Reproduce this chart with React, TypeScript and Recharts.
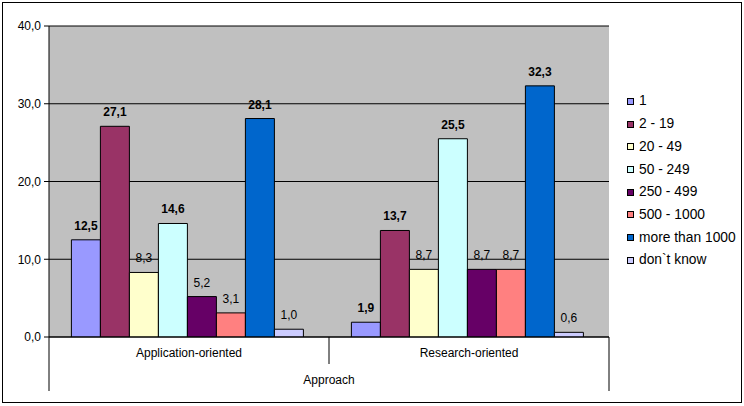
import React from 'react';
import { BarChart, Bar, XAxis, YAxis, CartesianGrid, LabelList } from 'recharts';

const categories = ['Application-oriented', 'Research-oriented'];
const axisTitle = 'Approach';
const seriesNames = ['1', '2 - 19', '20 - 49', '50 - 249', '250 - 499', '500 - 1000', 'more than 1000', 'don`t know'];
const v1 = [12.5, 1.9];
const v2to19 = [27.1, 13.7];
const v20to49 = [8.3, 8.7];
const v50to249 = [14.6, 25.5];
const v250to499 = [5.2, 8.7];
const v500to1000 = [3.1, 8.7];
const vMore1000 = [28.1, 32.3];
const vDontKnow = [1.0, 0.6];
const seriesValues = [v1, v2to19, v20to49, v50to249, v250to499, v500to1000, vMore1000, vDontKnow];
const seriesColors = ['#9999FF', '#993366', '#FFFFCC', '#CCFFFF', '#660066', '#FF8080', '#0066CC', '#CCCCFF'];
const boldLabels = [true, true, false, true, false, false, true, false];
const yTicks = [0, 10, 20, 30, 40];

const data = categories.map((c, i) => {
  const row: Record<string, any> = { category: c };
  seriesValues.forEach((vals, k) => {
    row['s' + k] = vals[i];
  });
  return row;
});

const fmt = (v: any) => Number(v).toFixed(1).replace('.', ',');

const FONT = 'Arial, "Liberation Sans", sans-serif';

const CategoryTick = (props: any) => {
  const { x, y, payload, index } = props;
  const n = categories.length;
  const half = payload && typeof payload.offset === 'number' && payload.offset > 0 ? payload.offset : (props.width || 560) / n / 2;
  const last = index === n - 1;
  return (
    <g>
      <line x1={x - half} y1={y} x2={x - half} y2={y + (index === 0 ? 54 : 27)} stroke="#000" strokeWidth={1} />
      {last && <line x1={x + half} y1={y} x2={x + half} y2={y + 54} stroke="#000" strokeWidth={1} />}
      <text x={x} y={y + 20} textAnchor="middle" fontSize={12} fill="#000" fontFamily={FONT}>
        {payload.value}
      </text>
    </g>
  );
};

export default function App() {
  return (
    <div style={{ position: 'absolute', left: 0, top: 0, width: 744, height: 406, fontFamily: FONT, background: '#fff' }}>
      <div
        style={{
          position: 'absolute',
          left: 2,
          top: 2,
          width: 740,
          height: 401,
          border: '1px solid #000',
          boxSizing: 'border-box',
        }}
      />
      <div style={{ position: 'absolute', left: 0, top: 0 }}>
        <BarChart
          width={744}
          height={406}
          data={data}
          margin={{ top: 26, right: 135, left: 0, bottom: 0 }}
          barCategoryGap="8%"
          barGap={0}
          style={{ fontFamily: FONT }}
        >
          <CartesianGrid vertical={false} stroke="#000" fill="#C0C0C0" fillOpacity={1} />
          <XAxis
            dataKey="category"
            height={69}
            tickSize={0}
            tickMargin={0}
            tickLine={false}
            axisLine={{ stroke: '#000' }}
            tick={<CategoryTick />}
            interval={0}
            label={{ value: axisTitle, position: 'insideBottom', offset: 22, fill: '#000', fontSize: 12 }}
          />
          <YAxis
            width={49}
            domain={[0, 40]}
            ticks={yTicks}
            tickFormatter={fmt}
            tickSize={5}
            tickMargin={3}
            axisLine={{ stroke: '#000' }}
            tickLine={{ stroke: '#000' }}
            tick={{ fill: '#000', fontSize: 12 }}
            allowDataOverflow
          />
          <YAxis
            yAxisId="frame"
            orientation="right"
            width={0}
            domain={[0, 40]}
            tick={false}
            tickLine={false}
            axisLine={{ stroke: '#808080', strokeWidth: 2 }}
          />
          {seriesNames.map((name, k) => (
            <Bar
              key={name}
              dataKey={'s' + k}
              name={name}
              fill={seriesColors[k]}
              stroke="#000"
              strokeWidth={1}
              isAnimationActive={false}
            >
              <LabelList
                dataKey={'s' + k}
                position="top"
                offset={10}
                formatter={fmt}
                fill="#000"
                fontSize={12}
                fontWeight={boldLabels[k] ? 'bold' : 'normal'}
              />
            </Bar>
          ))}
        </BarChart>
      </div>
      <div style={{ position: 'absolute', left: 627, top: 90 }}>
        {seriesNames.map((name, k) => (
          <div key={name} style={{ height: 22.7, display: 'flex', alignItems: 'center', whiteSpace: 'nowrap' }}>
            <div
              style={{
                width: 7,
                height: 7,
                background: seriesColors[k],
                border: '1px solid #000',
                boxSizing: 'border-box',
                flex: 'none',
              }}
            />
            <span style={{ marginLeft: 5, fontSize: 13.8, color: '#000', lineHeight: 1 }}>{name}</span>
          </div>
        ))}
      </div>
    </div>
  );
}
